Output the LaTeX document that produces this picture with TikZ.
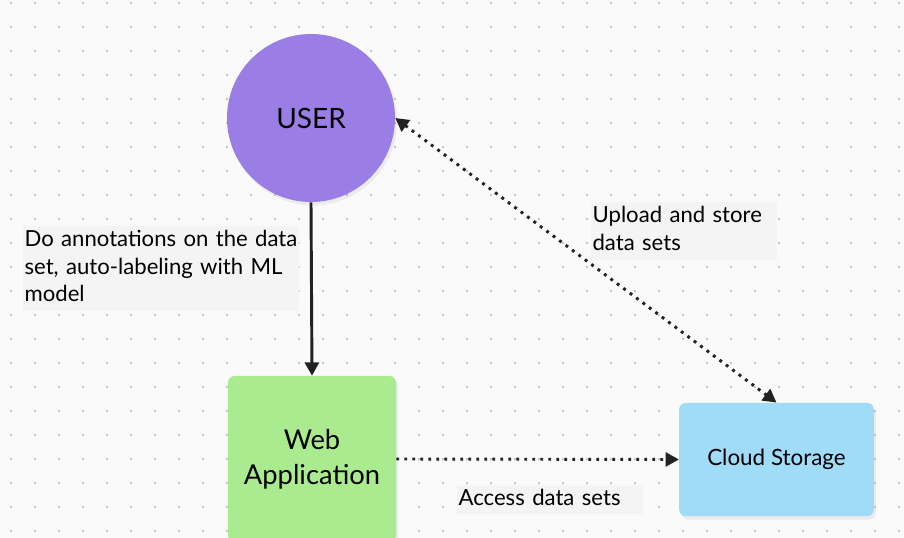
\documentclass[tikz,border=0pt]{standalone}
\usepackage{fontspec}
\setmainfont{Lato}
\usetikzlibrary{arrows.meta,shadows}
\definecolor{bgcol}{HTML}{FAFAFA}
\definecolor{dotcol}{HTML}{C4C4C4}
\definecolor{usercol}{HTML}{9B7DE6}
\definecolor{webcol}{HTML}{ABEB8F}
\definecolor{cloudcol}{HTML}{A0DBF8}
\definecolor{labcol}{HTML}{F4F4F4}
\definecolor{inkcol}{HTML}{222222}
\tikzset{
  shade/.style={drop shadow={opacity=0.12,shadow xshift=1.5pt,shadow yshift=-2.5pt}},
  usernode/.style={circle,fill=usercol,minimum size=126pt,inner sep=0pt,font=\fontsize{21}{25}\selectfont,shade},
  boxnode/.style={rectangle,rounded corners=5pt,inner sep=0pt,align=center,shade},
  labnode/.style={fill=labcol,anchor=north west,align=left,inner xsep=1pt,inner ysep=1pt,font=\fontsize{16.6}{20.6}\selectfont},
  solidarrow/.style={draw=inkcol,line width=2.2pt,-{Triangle[length=10pt,width=10.5pt]}},
  dotarrow/.style={draw=inkcol,line width=2.2pt,dash pattern=on 2.2pt off 3.8pt},
  tip/.style={-{Triangle[length=10pt,width=10.5pt]}},
  tips/.style={{Triangle[length=10pt,width=10.5pt]}-{Triangle[length=10pt,width=10.5pt]}}
}
\begin{document}
\begin{tikzpicture}[x=0.75pt,y=-0.75pt]
\useasboundingbox (0,0) rectangle (904,538);
\clip (0,0) rectangle (904,538);
\fill[bgcol] (0,0) rectangle (904,538);
\foreach \i in {0,...,37}{
  \foreach \j in {0,...,22}{
    \fill[dotcol] ({11+24*\i-1.2},{3+24*\j-1.2}) rectangle ++(2.4,2.4);
  }
}
% label backgrounds
\node[labnode,text width=205pt] (annot) at (23,226) {\strut Do\ annotations\ on\ the\ data\hfil\\set, auto-labeling with ML\\model\strut};
\node[labnode,text width=137pt] (upload) at (591,202) {\strut Upload and store\\data sets\strut};
\node[labnode,text width=137pt] (access) at (457,485) {\strut Access data sets};
% nodes
\node[usernode] (user) at (311,118) {USER};
\node[boxnode,fill=webcol,minimum width=126pt,minimum height=124.5pt,font=\fontsize{20.5}{26}\selectfont] (web) at (312,459) {Web\\Application};
\node[boxnode,fill=cloudcol,minimum width=146pt,minimum height=85pt,font=\fontsize{16.8}{20}\selectfont] (cloud) at (776.5,459.5) {Cloud Storage};
% connectors
\draw[solidarrow] (user.south) -- (web.north);
\draw[dotarrow,tips] (user.east) -- (cloud.north);
\draw[dotarrow,tip] (web.east) -- (cloud.west);
\end{tikzpicture}
\end{document}
